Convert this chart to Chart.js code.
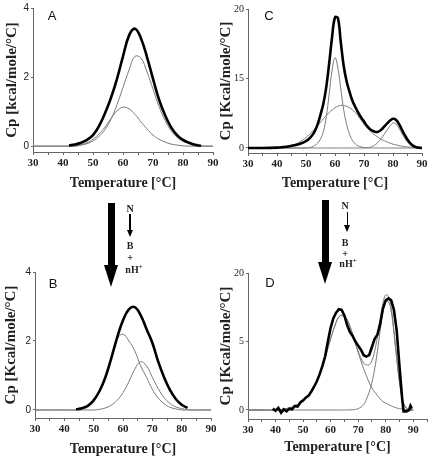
<!DOCTYPE html>
<html lang="en">
<head>
  <meta charset="UTF-8">
  <title>DSC panels</title>
  <style>
    body { margin: 0; background: #fff; }
    #wrap { position: relative; width: 431px; height: 462px; overflow: hidden; }
    canvas { position: absolute; }
    .txt { position: absolute; transform: translate(-50%, -50%); white-space: nowrap; color: #222; }
    .letter { font: 13px 'Liberation Sans', Arial, sans-serif; color: #111; }
    .eq { font: bold 10px 'Liberation Serif', 'Times New Roman', serif; }
    .bar { position: absolute; background: #000; }
    .head { position: absolute; width: 0; height: 0; border-style: solid; border-color: #000 transparent transparent transparent; }
  </style>
</head>
<body>
<div id="wrap">
  <canvas id="chartA" width="225" height="200" style="left:0;top:0"></canvas>
  <canvas id="chartC" width="216" height="200" style="left:215px;top:0"></canvas>
  <canvas id="chartB" width="225" height="200" style="left:0;top:262px"></canvas>
  <canvas id="chartD" width="216" height="200" style="left:215px;top:262px"></canvas>

  <div class="txt letter" style="left:52px;top:15px">A</div>
  <div class="txt letter" style="left:269px;top:15px">C</div>
  <div class="txt letter" style="left:53px;top:283px">B</div>
  <div class="txt letter" style="left:270px;top:282px">D</div>

  <!-- left arrow and reaction -->
  <div class="bar" style="left:108px;top:203px;width:7px;height:63px"></div>
  <div class="head" style="left:104px;top:265px;border-width:22px 7px 0 7px"></div>
  <div class="txt eq" style="left:130px;top:208px">N</div>
  <div class="bar" style="left:129px;top:214px;width:1.5px;height:17px"></div>
  <div class="head" style="left:127px;top:230px;border-width:7px 3px 0 3px"></div>
  <div class="txt eq" style="left:130px;top:245px">B</div>
  <div class="txt eq" style="left:130px;top:257px">+</div>
  <div class="txt eq" style="left:134px;top:269px">nH<sup style="font-size:7px">+</sup></div>

  <!-- right arrow and reaction -->
  <div class="bar" style="left:322px;top:200px;width:7px;height:63px"></div>
  <div class="head" style="left:318px;top:262px;border-width:22px 7px 0 7px"></div>
  <div class="txt eq" style="left:345px;top:205px">N</div>
  <div class="bar" style="left:346.5px;top:212px;width:1.5px;height:14px"></div>
  <div class="head" style="left:344px;top:225px;border-width:7px 3px 0 3px"></div>
  <div class="txt eq" style="left:345px;top:242px">B</div>
  <div class="txt eq" style="left:345px;top:253px">+</div>
  <div class="txt eq" style="left:348px;top:263px">nH<sup style="font-size:7px">+</sup></div>
</div>

<script src="https://cdn.jsdelivr.net/npm/chart.js"></script>
<script>
// ---- panel A (kcal/mole/°C) ----
const tempA = [30,32,34,36,38,40,42,44,46,48,50,52,54,56,58,60,62,64,66,68,70,72,74,76,78,80,82,84,86,88,90]
const totalA = [null,null,null,null,null,null,.02,.05,.1,.18,.32,.58,.95,1.4,1.95,2.6,3.2,3.4,3.12,2.58,1.95,1.35,.9,.55,.32,.18,.1,.04,.01,null,null]
const bigA = [0,0,0,0,0,0,0,0,.03,.07,.15,.28,.48,.78,1.2,1.7,2.2,2.6,2.55,2.15,1.65,1.15,.75,.45,.26,.14,.07,.03,.01,0,0]
const smallA = [0,0,0,0,0,0,0,0,.04,.1,.2,.35,.55,.8,1.02,1.13,1.08,.92,.7,.5,.32,.2,.12,.06,.03,.01,0,0,0,0,0]

// ---- panel B ----
const tempB = tempA
const totalB = [null,null,null,null,null,null,null,.02,.05,.12,.28,.55,.95,1.5,2.1,2.6,2.92,2.98,2.75,2.35,1.95,1.4,.95,.58,.32,.15,.06,null,null,null,null]
const leftB = [0,0,0,0,0,0,0,0,.04,.12,.28,.55,.95,1.45,2.05,2.2,2.0,1.72,1.28,.95,.6,.35,.18,.08,.03,0,0,0,0,0,0]
const rightB = [0,0,0,0,0,0,0,0,0,0,0,.02,.06,.14,.28,.5,.82,1.18,1.4,1.28,.95,.62,.36,.19,.09,.04,.01,0,0,0,0]

// ---- panel C ----
const tempC = [30,35,40,42,44,46,48,50,51,52,53,54,55,56,57,58,59,60,61,62,63,64,65,66,67,68,69,70,71,72,73,74,75,76,77,78,79,80,81,82,83,84,85,86,87,88,89,90]
const totalC = [0,0,.05,.12,.22,.38,.62,1.0,1.3,1.75,2.4,3.4,4.8,6.4,8.8,12.2,16.0,18.8,18.7,15.2,11.8,9.6,8.1,6.8,5.9,5.1,4.4,3.8,3.2,2.75,2.45,2.3,2.35,2.65,3.1,3.55,3.95,4.2,4.05,3.5,2.7,1.9,1.2,.65,.3,.12,.04,0]
const narrowC = [0,0,0,0,0,0,0,0,.05,.15,.35,.7,1.3,2.4,4.5,7.8,11.2,13.0,11.5,8.5,5.5,3.4,2.0,1.1,.6,.3,.15,.07,.03,0,0,0,0,0,0,0,0,0,0,0,0,0,0,0,0,0,0,0]
const broadC = [0,0,0,.1,.25,.5,.9,1.5,1.9,2.3,2.75,3.2,3.7,4.2,4.65,5.1,5.45,5.8,6.0,6.15,6.1,6.0,5.8,5.5,5.1,4.6,4.0,3.4,2.9,2.5,2.1,1.8,1.5,1.25,1.05,.85,.7,.55,.45,.35,.27,.2,.15,.11,.08,.05,.03,0]
const highC = [0,0,0,0,0,0,0,0,0,0,0,0,0,0,0,0,0,0,0,0,0,0,0,0,0,0,0,0,.02,.1,.25,.5,.9,1.4,2.0,2.6,3.2,3.6,3.45,2.9,2.15,1.45,.85,.45,.2,.08,.02,0]
const yTicksC = [0, 10, 20]
const yLabelsC = ['0', '15', '20']

// ---- panel D ----
const tempD = [39,40,41,42,43,44,45,46,47,48,49,50,51,52,53,54,55,56,57,58,59,60,61,62,63,64,65,66,67,68,69,70,71,72,73,74,75,76,77,78,79,80,81,82,83,84,85,86,86.5,87.5,88.5,89,89.5]
const measD = [.1,-.05,.15,-.2,.05,-.1,.1,.05,.3,.25,.55,.7,.9,1.05,1.35,1.7,2.1,2.6,3.2,3.9,5.0,6.0,6.7,7.1,7.35,7.3,6.9,6.2,5.7,5.4,5.0,4.7,4.4,4.0,3.9,4.0,4.6,5.2,5.5,6.3,7.4,8.0,8.15,8.0,7.3,5.8,3.2,.8,-.1,-.1,0,.3,.1]
const fitT = [30,35,40,45,48,50,52,54,56,58,60,62,63,64,65,66,68,70,72,73,74,75,76,77,78,79,80,81,82,83,84,85,86,87,88,89,90]
const fitD = [0,0,0,.15,.4,.7,1.1,1.7,2.6,3.8,5.2,6.4,6.8,6.92,6.82,6.62,5.52,4.3,3.4,3.3,3.3,3.6,4.3,5.35,6.6,7.8,8.4,8.3,7.5,5.8,3.85,2.1,.87,.29,.07,.01,0]
const lowD = [0,0,0,.15,.4,.7,1.1,1.7,2.6,3.8,5.2,6.4,6.8,6.9,6.8,6.6,5.5,4.2,3.0,2.5,2.0,1.6,1.3,1.05,.8,.62,.5,.4,.3,.22,.15,.1,.07,.04,.02,.01,0]
const highD = [0,0,0,0,0,0,0,0,0,0,0,0,0,0,0,0,.02,.1,.4,.8,1.3,2.0,3.0,4.3,5.8,7.2,7.9,7.9,7.2,5.6,3.7,2.0,.8,.25,.05,0,0]
const yTicksD = [0, 5, 10]
const yLabelsD = ['0', '5', '20']

const serif = "'Liberation Serif', 'Times New Roman', serif"
const sans = "'Liberation Sans', Arial, sans-serif"

function line(xs, ys, heavy, tension) {
  return {
    data: xs.map((x, i) => ({ x: x, y: ys[i] })),
    borderColor: heavy ? '#000' : '#7a7a7a',
    borderWidth: heavy ? 2.6 : 1,
    pointRadius: 0,
    tension: tension === undefined ? 0.4 : tension,
    fill: false
  }
}

function panel(id, o) {
  new Chart(document.getElementById(id), {
    type: 'line',
    data: { datasets: o.datasets },
    options: {
      responsive: false,
      animation: false,
      devicePixelRatio: 1,
      layout: { padding: o.pad },
      plugins: { legend: { display: false }, tooltip: { enabled: false } },
      scales: {
        x: {
          type: 'linear', min: 30, max: o.xMax,
          border: { color: '#666', width: 1 },
          grid: { drawOnChartArea: false, drawTicks: true, tickLength: 3, color: '#666' },
          ticks: {
            stepSize: 5, autoSkip: false, maxRotation: 0, padding: 2, color: '#222',
            font: { family: serif, size: 11, weight: 'bold' },
            callback: v => (v % 10 === 0 && v <= 90) ? String(v) : ''
          },
          title: { display: true, text: 'Temperature [°C]', color: '#222', padding: 0,
                   font: { family: serif, size: 14, weight: 'bold' } },
          afterFit: s => { s.height = o.xH }
        },
        y: {
          min: o.yMin, max: o.yMax,
          border: { color: '#666', width: 1 },
          grid: { drawOnChartArea: false, drawTicks: true, tickLength: 2, color: '#666' },
          afterBuildTicks: s => { s.ticks = o.yTicks.map(v => ({ value: v })) },
          ticks: {
            padding: 2, color: '#222',
            font: { family: o.yFont, size: 10 },
            callback: v => o.yLabels[o.yTicks.indexOf(v)]
          },
          title: { display: true, text: o.yTitle, color: '#222', padding: { top: o.tPad, bottom: 0 },
                   font: { family: serif, size: 15, weight: 'bold' } },
          afterFit: s => { s.width = o.yW }
        }
      }
    }
  })
}

panel('chartA', {
  datasets: [line(tempA, totalA, true), line(tempA, bigA, false), line(tempA, smallA, false)],
  pad: { left: 0, top: 7, right: 12, bottom: 8 }, yW: 33, xH: 40, tPad: 3,
  xMax: 90, yMin: -0.17, yMax: 4, yTicks: [0, 2, 4], yLabels: ['0', '2', '4'], yFont: sans,
  yTitle: 'Cp [kcal/mole/°C]'
})

panel('chartC', {
  datasets: [line(tempC, totalC, true), line(tempC, narrowC, false), line(tempC, broadC, false), line(tempC, highC, false)],
  pad: { left: 0, top: 9, right: 9, bottom: 8 }, yW: 33, xH: 39, tPad: 2,
  xMax: 90, yMin: -0.72, yMax: 20, yTicks: yTicksC, yLabels: yLabelsC, yFont: serif,
  yTitle: 'Cp [Kcal/mole/°C]'
})

panel('chartB', {
  datasets: [line(tempB, totalB, true), line(tempB, leftB, false), line(tempB, rightB, false)],
  pad: { left: 0, top: 10, right: 14, bottom: 4 }, yW: 35, xH: 40, tPad: 2,
  xMax: 90, yMin: -0.232, yMax: 4, yTicks: [0, 2, 4], yLabels: ['0', '2', '4'], yFont: sans,
  yTitle: 'Cp [Kcal/mole/°C]'
})

panel('chartD', {
  datasets: [line(tempD, measD, true, 0), line(fitT, fitD, false), line(fitT, lowD, false), line(fitT, highD, false)],
  pad: { left: 0, top: 11, right: 4, bottom: 6 }, yW: 33, xH: 37, tPad: 2,
  xMax: 95, yMin: -0.657, yMax: 10, yTicks: yTicksD, yLabels: yLabelsD, yFont: serif,
  yTitle: 'Cp [Kcal/mole/°C]'
})
</script>
</body>
</html>
